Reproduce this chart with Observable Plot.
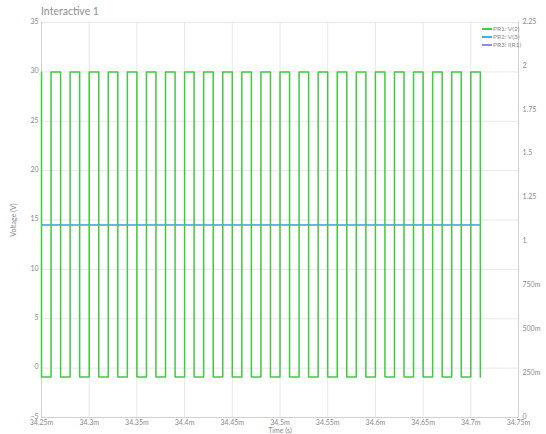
<!DOCTYPE html>
<html>
<head>
<meta charset="utf-8">
<script src="https://cdn.jsdelivr.net/npm/d3@7"></script>
<script src="https://cdn.jsdelivr.net/npm/@observablehq/plot@0.6"></script>
<style>
  body { margin: 0; background: #fff; font-family: Lato, "Open Sans", sans-serif; }
  #wrap { position: relative; width: 546px; height: 434px; }
  #title { position: absolute; left: 41px; top: 5px; font-size: 10.5px; color: #8f8f8f; font-weight: 400; }
  #chart { position: absolute; left: 0; top: 18px; }
  #chart svg { overflow: visible; }
  #legend { position: absolute; left: 482px; top: 25px; font-size: 6.5px; color: #8a8a8a; line-height: 8px; }
  #legend .row { display: flex; align-items: center; white-space: nowrap; }
  #legend .sw { width: 10px; height: 1.2px; margin-right: 1px; }
</style>
</head>
<body>
<div id="wrap">
  <div id="title">Interactive 1</div>
  <div id="chart"></div>
  <div id="legend"></div>
</div>
<script>
// Series names and colours
const seriesNames = ["PR1: V(2)", "PR2: V(3)", "PR3: I(R1)"];
const seriesColors = ["#41c941", "#3daef0", "#8c8ce8"];

// PR1: V(2) — square wave edges (time in ms, voltage in V), drawn as step-after
const v2TimeMs = [34.25, 34.25, 34.26, 34.27, 34.28, 34.29, 34.30, 34.31, 34.32, 34.33, 34.34, 34.35,
  34.36, 34.37, 34.38, 34.39, 34.40, 34.41, 34.42, 34.43, 34.44, 34.45, 34.46, 34.47,
  34.48, 34.49, 34.50, 34.51, 34.52, 34.53, 34.54, 34.55, 34.56, 34.57, 34.58, 34.59,
  34.60, 34.61, 34.62, 34.63, 34.64, 34.65, 34.66, 34.67, 34.68, 34.69, 34.70, 34.71];
const v2Volts = [30, -0.9, 30, -0.9, 30, -0.9, 30, -0.9, 30, -0.9, 30, -0.9,
  30, -0.9, 30, -0.9, 30, -0.9, 30, -0.9, 30, -0.9, 30, -0.9,
  30, -0.9, 30, -0.9, 30, -0.9, 30, -0.9, 30, -0.9, 30, -0.9,
  30, -0.9, 30, -0.9, 30, -0.9, 30, -0.9, 30, -0.9, 30, -0.9];

// PR2: V(3) (left axis, V)
const v3TimeMs = [34.25, 34.71];
const v3Volts = [14.5, 14.5];

// PR3: I(R1) (right axis, A)
const iR1TimeMs = [34.25, 34.71];
const iR1Amps = [1.097, 1.097];

// Axes
const xTicksMs = [34.25, 34.30, 34.35, 34.40, 34.45, 34.50, 34.55, 34.60, 34.65, 34.70, 34.75];
const leftTicks = [-5, 0, 5, 10, 15, 20, 25, 30, 35];
const rightTicks = [0, 0.25, 0.5, 0.75, 1, 1.25, 1.5, 1.75, 2, 2.25];
const leftDomain = [-5, 35];
const rightDomain = [0, 2.25];

const toLeft = a => leftDomain[0] + (a - rightDomain[0]) / (rightDomain[1] - rightDomain[0]) * (leftDomain[1] - leftDomain[0]);
const toRight = v => rightDomain[0] + (v - leftDomain[0]) / (leftDomain[1] - leftDomain[0]) * (rightDomain[1] - rightDomain[0]);
const siFmt = d3.format("~s");

const v2 = v2TimeMs.map((t, i) => ({t: t * 1e-3, v: v2Volts[i]}));
const v3 = v3TimeMs.map((t, i) => ({t: t * 1e-3, v: v3Volts[i]}));
const i1 = iR1TimeMs.map((t, i) => ({t: t * 1e-3, v: toLeft(iR1Amps[i])}));
const xTicks = xTicksMs.map(t => t * 1e-3);

const plot = Plot.plot({
  width: 546,
  height: 416,
  marginLeft: 41,
  marginRight: 28,
  marginTop: 4,
  marginBottom: 17,
  style: { fontFamily: "Lato, 'Open Sans', sans-serif", fontSize: "7px", color: "#8a8a8a", background: "transparent" },
  x: { domain: [xTicks[0], xTicks[xTicks.length - 1]] },
  y: { domain: leftDomain },
  marks: [
    Plot.gridX(xTicks, { stroke: "#e8e8e8", strokeOpacity: 1 }),
    Plot.gridY(leftTicks, { stroke: "#e8e8e8", strokeOpacity: 1 }),
    Plot.ruleX([xTicks[0], xTicks[xTicks.length - 1]], { stroke: "#d0d0d0" }),
    Plot.ruleY([leftDomain[0]], { stroke: "#d0d0d0" }),
    Plot.axisX(xTicks, { tickSize: 0, tickPadding: 3, tickFormat: siFmt, label: "Time (s)", labelAnchor: "center", labelArrow: "none", labelOffset: 15, fill: "#8a8a8a" }),
    Plot.axisY(leftTicks, { anchor: "left", tickSize: 0, tickPadding: 3, dy: -1, label: "Voltage (V)", labelAnchor: "center", labelArrow: "none", labelOffset: 30, fill: "#8a8a8a" }),
    Plot.axisY(rightTicks.map(toLeft), { anchor: "right", tickSize: 0, tickPadding: 4, dy: -1, tickFormat: d => siFmt(Math.round(toRight(d) * 1000) / 1000), label: null, fill: "#8a8a8a" }),
    Plot.line(i1, { x: "t", y: "v", stroke: seriesColors[2], strokeWidth: 0.8 }),
    Plot.line(v3, { x: "t", y: "v", stroke: seriesColors[1], strokeWidth: 1.4 }),
    Plot.line(v2, { x: "t", y: "v", stroke: seriesColors[0], strokeWidth: 1.5, curve: "step-after" })
  ]
});
document.getElementById("chart").appendChild(plot);

const legend = document.getElementById("legend");
seriesNames.forEach((name, i) => {
  const row = document.createElement("div");
  row.className = "row";
  const sw = document.createElement("span");
  sw.className = "sw";
  sw.style.background = seriesColors[i];
  const txt = document.createElement("span");
  txt.textContent = name;
  row.appendChild(sw);
  row.appendChild(txt);
  legend.appendChild(row);
});
</script>
</body>
</html>
